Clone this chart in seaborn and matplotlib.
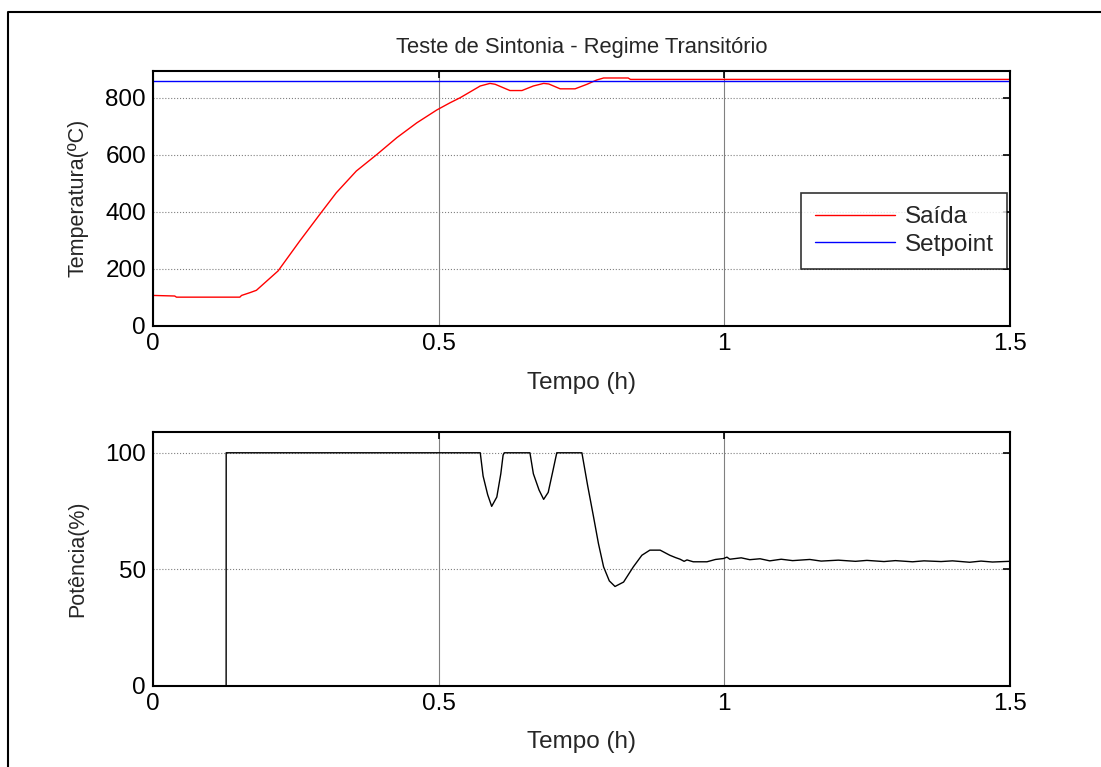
import numpy as np
import pandas as pd
import matplotlib
matplotlib.use('Agg')
import matplotlib.pyplot as plt
from matplotlib.lines import Line2D
import seaborn as sns

sns.set_style('white')
plt.rcParams['font.family'] = ['Liberation Sans', 'DejaVu Sans']
plt.rcParams['axes.unicode_minus'] = False

# temperatura (saida)
t_temp = [0.0, 0.038, 0.041, 0.152, 0.155, 0.170, 0.181, 0.219, 0.257, 0.295,
          0.321, 0.356, 0.392, 0.427, 0.462, 0.497, 0.520, 0.538, 0.573, 0.590,
          0.599, 0.625, 0.646, 0.666, 0.684, 0.693, 0.713, 0.739, 0.760, 0.777,
          0.789, 0.832, 0.836, 1.5]
temp = [107, 105, 101, 101, 107, 117, 125, 193, 298, 399,
        467, 543, 601, 660, 712, 757, 782, 800, 841, 850,
        847, 825, 825, 841, 850, 848, 831, 831, 847, 862,
        869, 869, 864, 864]
t_sp = [0.0, 1.5]
setpoint = [858, 858]

# potencia
t_pot = [0.0, 0.128, 0.1281, 0.573, 0.578, 0.586, 0.593, 0.602, 0.609, 0.613,
         0.615, 0.660, 0.666, 0.676, 0.684, 0.692, 0.700, 0.707, 0.751, 0.761,
         0.771, 0.780, 0.789, 0.799, 0.809, 0.824, 0.841, 0.856, 0.870, 0.888,
         0.905, 0.915, 0.923, 0.930, 0.935, 0.946, 0.970, 0.985, 0.999, 1.005,
         1.01, 1.03, 1.045, 1.063, 1.08, 1.10, 1.12, 1.15, 1.17, 1.20,
         1.23, 1.25, 1.28, 1.30, 1.33, 1.35, 1.38, 1.40, 1.43, 1.45,
         1.47, 1.5]
pot = [0, 0, 100, 100, 90, 82, 77, 81, 91, 99,
       100, 100, 91, 84, 80, 83, 92, 100, 100, 86,
       73, 61, 51, 45, 42.6, 44.5, 51, 56, 58.2, 58.2,
       56, 55.0, 54.3, 53.4, 54.0, 53.2, 53.2, 54.2, 54.6, 55.2,
       54.3, 54.9, 54.1, 54.5, 53.6, 54.3, 53.7, 54.2, 53.5, 53.9,
       53.4, 53.8, 53.3, 53.7, 53.2, 53.6, 53.3, 53.6, 53.0, 53.5,
       53.1, 53.4]

df_t = pd.DataFrame({'t': t_temp, 'v': temp})
df_s = pd.DataFrame({'t': t_sp, 'v': setpoint})
df_p = pd.DataFrame({'t': t_pot, 'v': pot})

fig = plt.figure(figsize=(11.01, 7.67), dpi=100)
ax1 = fig.add_axes([0.139, 0.575, 0.778, 0.333])
ax2 = fig.add_axes([0.139, 0.106, 0.778, 0.331])

sns.lineplot(data=df_t, x='t', y='v', ax=ax1, color='#ff0000', lw=1.0, label='Saída', estimator=None, sort=False)
sns.lineplot(data=df_s, x='t', y='v', ax=ax1, color='#0000ff', lw=1.0, label='Setpoint', estimator=None, sort=False)
sns.lineplot(data=df_p, x='t', y='v', ax=ax2, color='black', lw=1.0, estimator=None, sort=False, legend=False)

ax1.set_ylim(0, 895)
ax1.set_yticks([0, 200, 400, 600, 800])
ax2.set_ylim(0, 109)
ax2.set_yticks([0, 50, 100])

for ax in (ax1, ax2):
    ax.set_xlim(0, 1.5)
    ax.set_xticks([0, 0.5, 1, 1.5])
    ax.set_xticklabels(['0', '0.5', '1', '1.5'])
    ax.set_xlabel('Tempo (h)', fontsize=17.5, labelpad=12)
    ax.tick_params(direction='in', top=True, right=True, length=5, width=1.2,
                   labelsize=17.5, pad=5, colors='black')
    ax.xaxis.grid(True, color='#808080', lw=0.8, ls='-')
    ax.yaxis.grid(True, color='#808080', lw=0.8, ls=':')
    for sp in ax.spines.values():
        sp.set_color('black')
        sp.set_linewidth(1.5)

ax1.set_ylabel('Temperatura(ºC)', fontsize=15.5, labelpad=12)
ax2.set_ylabel('Potência(%)', fontsize=15.5, labelpad=12)
ax1.set_title('Teste de Sintonia - Regime Transitório', fontsize=15.8, pad=13)

leg = ax1.legend(loc='upper right', bbox_to_anchor=(0.9975, 0.522), fontsize=17.5,
                 frameon=True, fancybox=False, borderaxespad=0, handlelength=3.3,
                 handletextpad=0.4, borderpad=0.56, labelspacing=0.22)
leg.get_frame().set_edgecolor('black')
leg.get_frame().set_linewidth(1.2)

# moldura da figura
fig.add_artist(Line2D([0.0073, 0.0073, 1.0], [0.0, 0.984, 0.984],
                      transform=fig.transFigure, color='black', lw=1.5))

fig.savefig('out.png', dpi=100, facecolor='white')
